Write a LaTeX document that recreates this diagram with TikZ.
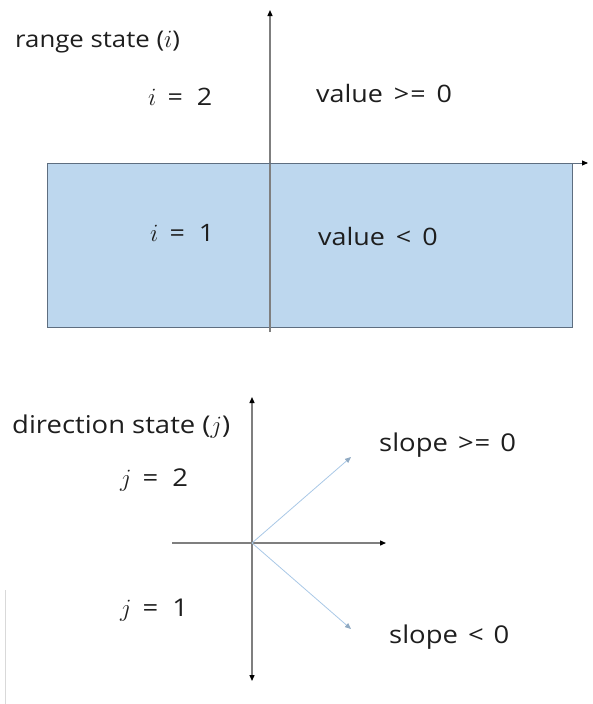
\documentclass[tikz,border=0pt]{standalone}
\usepackage{fontspec}
\setmainfont[FakeStretch=1.12]{Open Sans}
\usetikzlibrary{arrows.meta}
\definecolor{boxfill}{HTML}{BDD7EE}
\definecolor{boxline}{HTML}{5E6E80}
\definecolor{axisgray}{HTML}{7F7F7F}
\definecolor{vecblue}{HTML}{A9C8E6}
\definecolor{txt}{HTML}{1E1E1E}
\newcommand{\mvar}[2]{{\fontsize{#2}{#2}\selectfont$#1$}}
\tikzset{
  lbl/.style={font=\fontsize{24}{28}\selectfont, text=txt, inner sep=0pt},
  lblb/.style={font=\fontsize{24.5}{28}\selectfont, text=txt, inner sep=0pt},
  tipk/.style={-{Triangle[length=6pt,width=5pt,color=black]}},
  ax/.style={draw=axisgray, line width=1.3pt, tipk},
  vecarrow/.style={draw=vecblue, line width=0.8pt, -{Triangle[length=6pt,width=5pt,color=vecblue!85!black]}}
}
\begin{document}
\begin{tikzpicture}[x=1pt,y=-1pt]
\useasboundingbox (0,0) rectangle (592,704);
% ---- range state ----
\node[draw=boxline, fill=boxfill, line width=0.9pt, minimum width=525pt, minimum height=164pt, inner sep=0pt, anchor=north west] (box) at (47,163) {};
\coordinate (vtop) at (270,10);
\coordinate (vbot) at (270,332);
\coordinate (hl) at (47,163);
\coordinate (hr) at (588,163);
\draw[ax] (vbot) -- (vtop);
\draw[draw=boxline, line width=0.9pt, tipk] (hl) -- (hr);
\node[lbl, font=\fontsize{23}{27}\selectfont, anchor=west] (rs) at (15,42) {range state (\mvar{i}{30})};
\node[lbl, anchor=west] (i2) at (148,97) {\mvar{i}{32}\hspace{11pt}=\hspace{14pt}2};
\node[lbl, anchor=west] (v1) at (316,93) {value\hspace{11pt}>\hspace{1pt}=\hspace{11pt}0};
\node[lbl, anchor=west] (i1) at (150,233) {\mvar{i}{32}\hspace{11pt}=\hspace{14pt}1};
\node[lbl, anchor=west] (v2) at (318,236) {value\hspace{11pt}<\hspace{11pt}0};
% ---- direction state ----
\coordinate (o) at (252,543);
\coordinate (dtop) at (252,397);
\coordinate (dbot) at (252,681);
\coordinate (dl) at (172,543);
\coordinate (dr) at (386,543);
\coordinate (up) at (351,457);
\coordinate (dn) at (351,629);
\draw[draw=axisgray, line width=1.3pt, {Triangle[length=6pt,width=5pt,color=black]}-{Triangle[length=6pt,width=5pt,color=black]}] (dtop) -- (dbot);
\draw[ax] (dl) -- (dr);
\draw[vecarrow] (o) -- (up);
\draw[vecarrow] (o) -- (dn);
\node[lblb, anchor=west] (ds) at (12,427) {direction state (\mvar{j}{30})};
\node[lblb, anchor=west] (j2) at (120,480) {\mvar{j}{33}\hspace{11pt}=\hspace{14pt}2};
\node[lblb, anchor=west] (j1) at (120,610) {\mvar{j}{33}\hspace{11pt}=\hspace{14pt}1};
\node[lblb, anchor=west] (s1) at (379,445) {slope\hspace{10pt}>\hspace{1pt}=\hspace{10pt}0};
\node[lblb, anchor=west] (s2) at (389,637) {slope\hspace{10pt}<\hspace{10pt}0};
\coordinate (fa) at (5,590);
\coordinate (fb) at (5,704);
\draw[black!15, line width=0.8pt] (fa) -- (fb);
\end{tikzpicture}
\end{document}
